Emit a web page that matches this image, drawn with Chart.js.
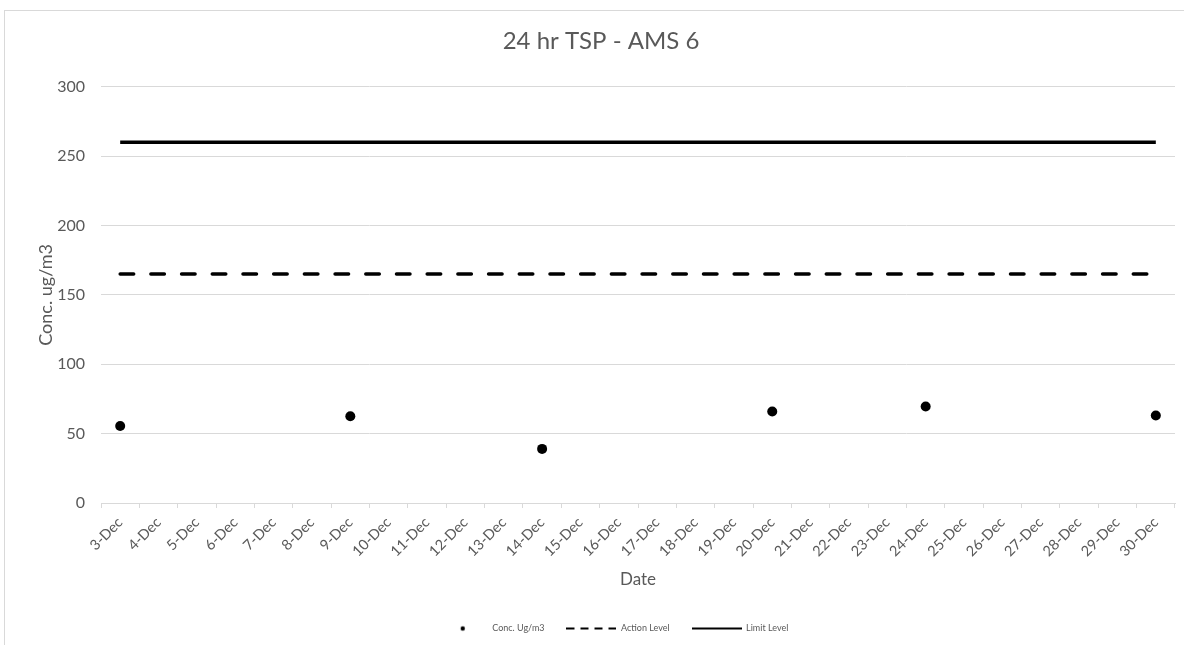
<!DOCTYPE html>
<html>
<head>
<meta charset="utf-8">
<title>24 hr TSP - AMS 6</title>
<script src="https://cdn.jsdelivr.net/npm/chart.js@4.4.1/dist/chart.umd.min.js"></script>
<style>
  html, body { margin: 0; padding: 0; background: #fff; overflow: hidden; }
  #frame {
    position: absolute; left: 4px; top: 10px;
    width: 1196px; height: 700px;
    border: 1px solid #d9d9d9; box-sizing: border-box;
  }
  #wrap { position: absolute; left: 0; top: 0; width: 1196px; height: 635px; }
</style>
</head>
<body>
<div id="frame">
  <div id="wrap"><canvas id="tspChart"></canvas></div>
</div>
<script>
// Chart data
const dates = [
  "3-Dec", "4-Dec", "5-Dec", "6-Dec", "7-Dec", "8-Dec", "9-Dec",
  "10-Dec", "11-Dec", "12-Dec", "13-Dec", "14-Dec", "15-Dec", "16-Dec",
  "17-Dec", "18-Dec", "19-Dec", "20-Dec", "21-Dec", "22-Dec", "23-Dec",
  "24-Dec", "25-Dec", "26-Dec", "27-Dec", "28-Dec", "29-Dec", "30-Dec",
];

const concValues = [
  55.5, null, null, null, null, null, 62.5,
  null, null, null, null, 39, null, null,
  null, null, null, 66, null, null, null,
  69.5, null, null, null, null, null, 63,
];

const actionLevel = [
  165, 165, 165, 165, 165, 165, 165,
  165, 165, 165, 165, 165, 165, 165,
  165, 165, 165, 165, 165, 165, 165,
  165, 165, 165, 165, 165, 165, 165,
];

const limitLevel = [
  260, 260, 260, 260, 260, 260, 260,
  260, 260, 260, 260, 260, 260, 260,
  260, 260, 260, 260, 260, 260, 260,
  260, 260, 260, 260, 260, 260, 260,
];

const yTicks = [0, 50, 100, 150, 200, 250, 300];

const FONT = "Lato, 'Open Sans', sans-serif";
const TEXT = "#595959";
const GRID = "#d9d9d9";

/**
 * Small legend symbol drawn on an offscreen canvas
 */
function makeSymbol(kind) {
  const c = document.createElement("canvas");
  c.width = 50;
  c.height = 8;
  const g = c.getContext("2d");
  g.fillStyle = "#000";
  g.strokeStyle = "#000";
  if (kind === "dot") {
    g.beginPath();
    g.arc(25, 4, 2.2, 0, Math.PI * 2);
    g.fill();
  } else {
    g.lineWidth = 2;
    if (kind === "dash") g.setLineDash([8, 6]);
    g.beginPath();
    g.moveTo(0, 4);
    g.lineTo(50, 4);
    g.stroke();
  }
  return c;
}

const legendItems = [
  { text: "Conc. Ug/m3", symbol: makeSymbol("dot") },
  { text: "Action Level", symbol: makeSymbol("dash") },
  { text: "Limit Level", symbol: makeSymbol("line") },
];

// Excel centres title/legend on the whole chart box, not the padded area
const shiftBoxes = {
  id: "shiftBoxes",
  afterLayout(chart) {
    const title = chart.titleBlock;
    const legend = chart.legend;
    if (title) {
      title.left += 11;
      title.right += 11;
    }
    if (legend) {
      legend.left += 23;
      legend.right += 23;
    }
  },
};

const ctx = document.getElementById("tspChart");

new Chart(ctx, {
  type: "line",
  data: {
    labels: dates,
    datasets: [
      {
        label: "Conc. Ug/m3",
        data: concValues,
        showLine: false,
        pointRadius: 5,
        pointBackgroundColor: "#000",
        pointBorderWidth: 0,
        borderColor: "#000",
      },
      {
        label: "Action Level",
        data: actionLevel,
        borderColor: "#000",
        borderWidth: 3.5,
        borderDash: [13.5, 17.2],
        borderCapStyle: "round",
        pointRadius: 0,
      },
      {
        label: "Limit Level",
        data: limitLevel,
        borderColor: "#000",
        borderWidth: 3.5,
        pointRadius: 0,
      },
    ],
  },
  plugins: [shiftBoxes],
  options: {
    responsive: true,
    maintainAspectRatio: false,
    animation: false,
    layout: { padding: { left: 0, right: 26, top: 0, bottom: 3 } },
    plugins: {
      tooltip: { enabled: false },
      title: {
        display: true,
        text: "24 hr TSP - AMS 6",
        color: TEXT,
        font: { family: FONT, size: 24, weight: "normal" },
        padding: { top: 15.6, bottom: 31.3 },
      },
      legend: {
        position: "bottom",
        onClick: null,
        labels: {
          usePointStyle: true,
          pointStyleWidth: 50,
          boxHeight: 8,
          padding: 22,
          color: TEXT,
          font: { family: FONT, size: 9 },
          generateLabels: () =>
            legendItems.map((item, i) => ({
              text: item.text,
              pointStyle: item.symbol,
              fillStyle: "#000",
              strokeStyle: "#000",
              lineWidth: 0,
              hidden: false,
              datasetIndex: i,
              fontColor: TEXT,
            })),
        },
      },
    },
    scales: {
      x: {
        offset: true,
        afterFit: (scale) => {
          scale.height = 99;
        },
        grid: {
          offset: true,
          drawOnChartArea: false,
          drawTicks: true,
          tickLength: 5,
          color: GRID,
        },
        border: { display: true, color: GRID, width: 1 },
        ticks: {
          autoSkip: false,
          maxRotation: 45,
          minRotation: 45,
          padding: 6,
          color: TEXT,
          font: { family: FONT, size: 14.5 },
        },
        title: {
          display: true,
          text: "Date",
          color: TEXT,
          font: { family: FONT, size: 17 },
          padding: { top: 0, bottom: 11.8 },
        },
      },
      y: {
        min: yTicks[0],
        max: yTicks[yTicks.length - 1],
        afterFit: (scale) => {
          scale.width = 96;
        },
        afterBuildTicks: (scale) => {
          scale.ticks = yTicks.map((v) => ({ value: v }));
        },
        grid: { color: GRID, drawTicks: false },
        border: { display: false },
        ticks: {
          padding: 16,
          color: TEXT,
          font: { family: FONT, size: 16 },
        },
        title: {
          display: true,
          text: "Conc. ug/m3",
          color: TEXT,
          font: { family: FONT, size: 18 },
          padding: { top: 30, bottom: 0 },
        },
      },
    },
  },
});
</script>
</body>
</html>
